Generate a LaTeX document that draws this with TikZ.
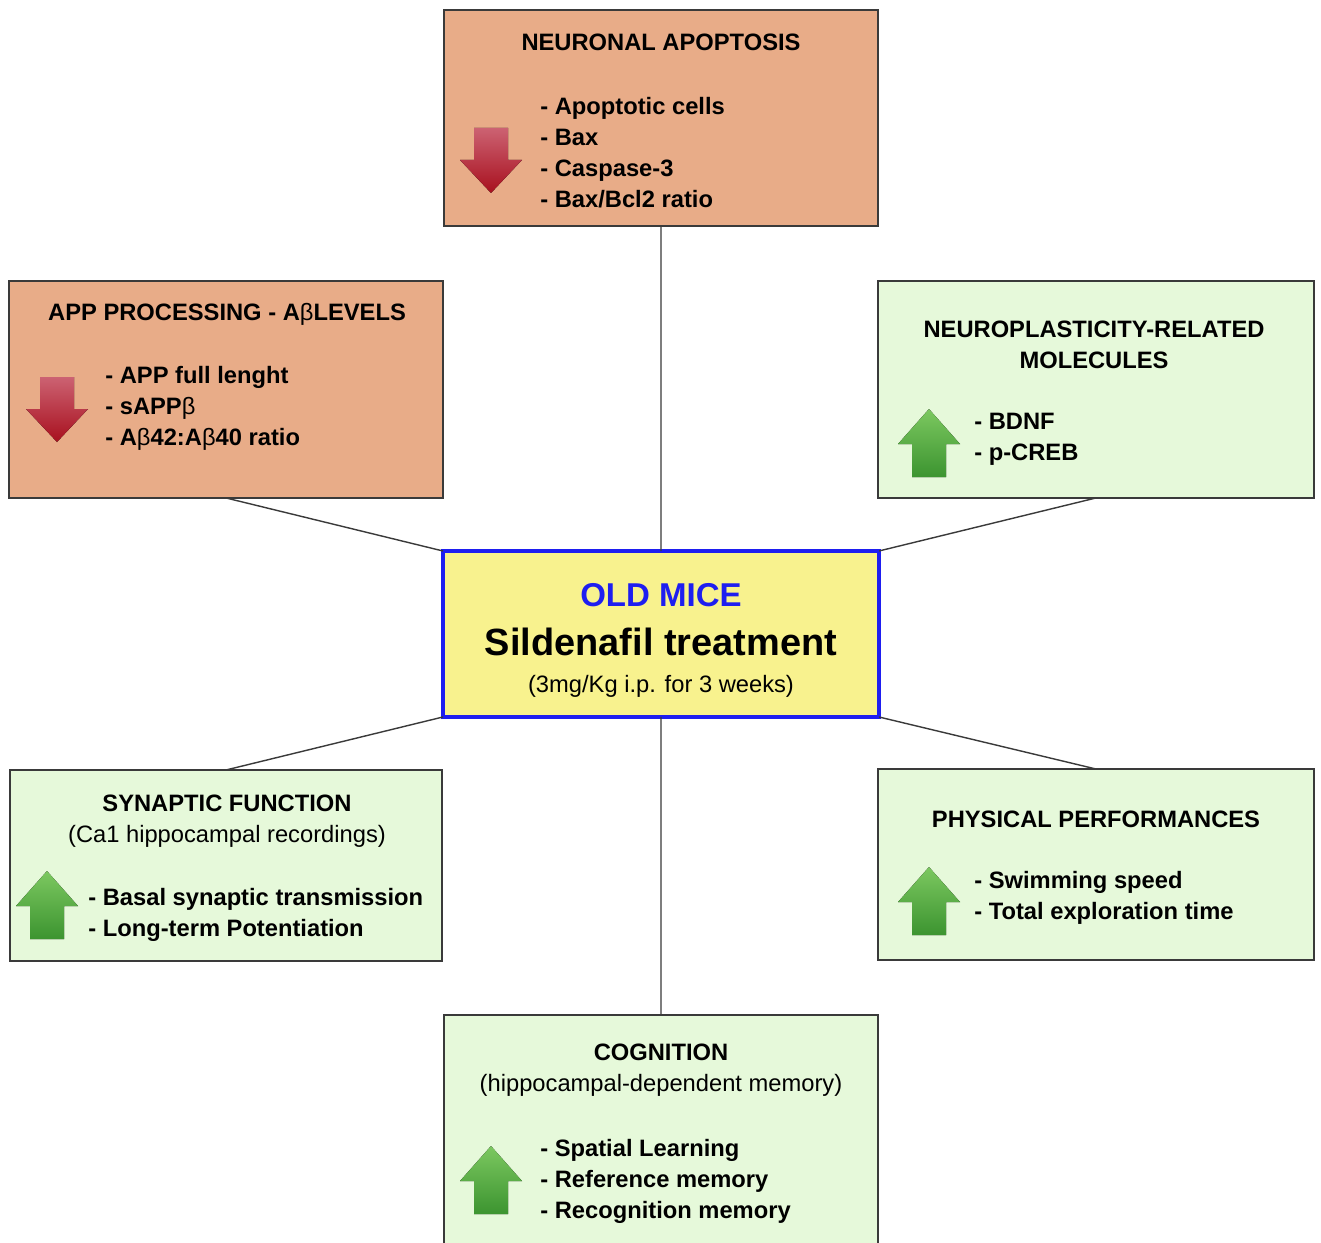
\documentclass[tikz,border=0pt]{standalone}
\usepackage{fontspec}
\setmainfont{Liberation Sans}
\usepackage{xcolor}
\usepackage{tikz}
\definecolor{salmon}{HTML}{E8AC88}
\definecolor{mint}{HTML}{E6F9DA}
\definecolor{lemon}{HTML}{F8F28E}
\definecolor{frame}{HTML}{3A3A3A}
\definecolor{mouseBlue}{HTML}{1E1EF0}
\definecolor{redTop}{HTML}{CC6272}
\definecolor{redBot}{HTML}{A8101E}
\definecolor{greenTop}{HTML}{7CC860}
\definecolor{greenBot}{HTML}{3C9430}
\tikzset{
  redBox/.style={draw=frame, line width=0.8pt, fill=salmon, anchor=north west, inner sep=0pt, outer sep=0pt},
  greenBox/.style={draw=frame, line width=0.8pt, fill=mint, anchor=north west, inner sep=0pt, outer sep=0pt},
  centerBox/.style={draw=mouseBlue, line width=2.4pt, fill=lemon, anchor=north west, inner sep=0pt, outer sep=0pt},
  boxTitle/.style={font=\fontsize{13.5}{17.6}\selectfont, align=center, inner sep=0pt},
  boxList/.style={font=\fontsize{13.5}{17.6}\selectfont\bfseries, align=left, anchor=west, inner sep=0pt},
  linkLine/.style={draw=frame, line width=0.8pt},
  downArrow/.style={top color=redTop, bottom color=redBot},
  upArrow/.style={top color=greenTop, bottom color=greenBot}
}
\newcommand{\arrowDown}[1]{%
  \fill[downArrow, shift={#1}] (14,0) -- (48,0) -- (48,32) -- (62,32) -- (31,65) -- (0,32) -- (14,32) -- cycle;}
\newcommand{\arrowUp}[1]{%
  \fill[upArrow, shift={#1}] (31,0) -- (62,35) -- (48,35) -- (48,68) -- (14,68) -- (14,35) -- (0,35) -- cycle;}

\begin{document}
\begin{tikzpicture}[x=0.02cm, y=-0.02cm]
  \clip (0,0) rectangle (1321,1243);
  \fill[white] (0,0) rectangle (1321,1243);

  % boxes
  \node[redBox, minimum width=8.68cm, minimum height=4.32cm] (apop) at (444,10) {};
  \node[redBox, minimum width=8.68cm, minimum height=4.34cm] (app) at (9,281) {};
  \node[greenBox, minimum width=8.72cm, minimum height=4.34cm] (neuro) at (878,281) {};
  \node[centerBox, minimum width=8.72cm, minimum height=3.32cm] (mice) at (443,551) {};
  \node[greenBox, minimum width=8.64cm, minimum height=3.82cm] (syn) at (10,770) {};
  \node[greenBox, minimum width=8.72cm, minimum height=3.82cm] (phys) at (878,769) {};
  \node[greenBox, minimum width=8.68cm, minimum height=5.2cm] (cog) at (444,1015) {};

  % links to the centre
  \draw[linkLine] (apop.south) -- (mice.north);
  \draw[linkLine] (app.south) -- (mice.north west);
  \draw[linkLine] (neuro.south) -- (mice.north east);
  \draw[linkLine] (syn.north) -- (mice.south west);
  \draw[linkLine] (phys.north) -- (mice.south east);
  \draw[linkLine] (cog.north) -- (mice.south);

  % centre
  \node[text=mouseBlue, font=\fontsize{18.8}{22}\selectfont\bfseries, inner sep=0pt] (miceTitle) at (661,595) {OLD MICE};
  \node[font=\fontsize{21.6}{26}\selectfont\bfseries, inner sep=0pt] (miceDrug) at (661,642) {Sildenafil treatment};
  \node[font=\fontsize{13.5}{17.6}\selectfont, inner sep=0pt] (miceDose) at (661,686) {(3mg/Kg i.p. for 3 weeks)};

  % neuronal apoptosis
  \node[boxTitle, font=\fontsize{13.5}{17.6}\selectfont\bfseries] (apopTitle) at (661,42) {NEURONAL APOPTOSIS};
  \arrowDown{(460,128)}
  \node[boxList] (apopList) at (540,153) {- Apoptotic cells\\- Bax\\- Caspase-3\\- Bax/Bcl2 ratio};

  % APP processing
  \node[boxTitle, font=\fontsize{13.5}{17.6}\selectfont\bfseries] (appTitle) at (227,314) {APP PROCESSING - A\textmd{β}LEVELS};
  \arrowDown{(26,377)}
  \node[boxList] (appList) at (105,408) {- APP full lenght\\- sAPP\textmd{β}\\- A\textmd{β}42:A\textmd{β}40 ratio};

  % neuroplasticity
  \node[boxTitle, font=\fontsize{13.5}{17.6}\selectfont\bfseries] (neuroTitle) at (1094,345) {NEUROPLASTICITY-RELATED\\MOLECULES};
  \arrowUp{(898,409)}
  \node[boxList] (neuroList) at (974,439) {- BDNF\\- p-CREB};

  % synaptic function
  \node[boxTitle] (synTitle) at (227,821) {\textbf{SYNAPTIC FUNCTION}\\(Ca1 hippocampal recordings)};
  \arrowUp{(16,871)}
  \node[boxList] (synList) at (88,915) {- Basal synaptic transmission\\- Long-term Potentiation};

  % physical performances
  \node[boxTitle, font=\fontsize{13.5}{17.6}\selectfont\bfseries] (physTitle) at (1096,819) {PHYSICAL PERFORMANCES};
  \arrowUp{(898,867)}
  \node[boxList] (physList) at (974,898) {- Swimming speed\\- Total exploration time};

  % cognition
  \node[boxTitle] (cogTitle) at (661,1070) {\textbf{COGNITION}\\(hippocampal-dependent memory)};
  \arrowUp{(460,1146)}
  \node[boxList] (cogList) at (540,1181) {- Spatial Learning\\- Reference memory\\- Recognition memory};
\end{tikzpicture}
\end{document}
